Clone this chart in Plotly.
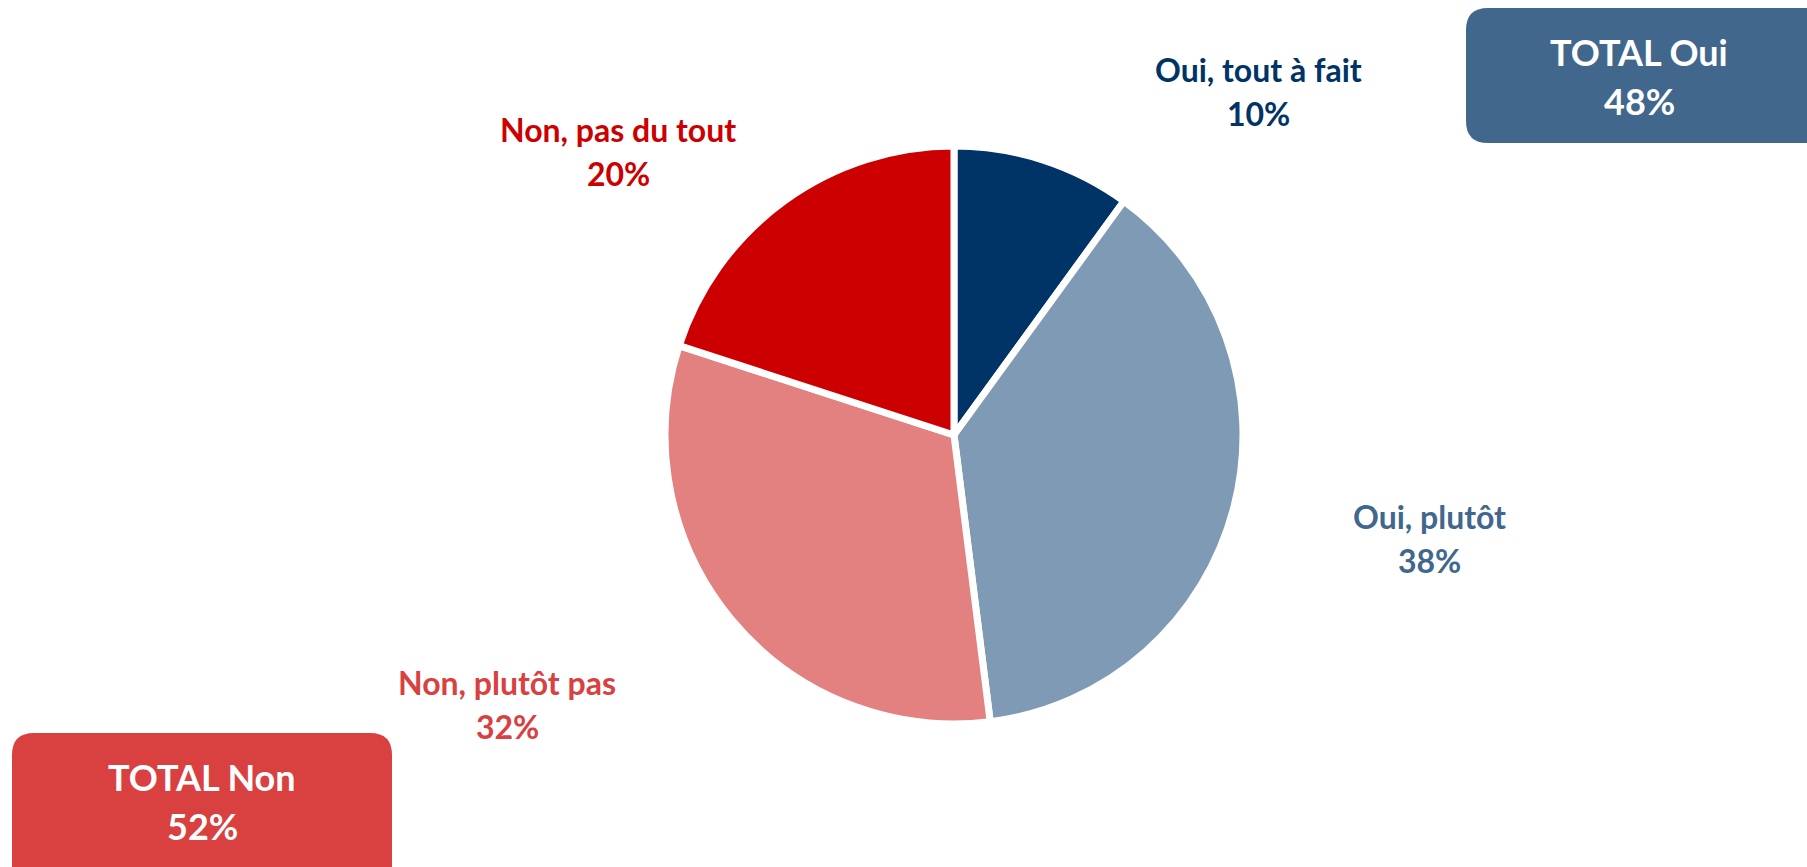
import plotly.graph_objects as go

W, H = 1807, 867

labels = ["Oui, tout à fait", "Oui, plutôt", "Non, plutôt pas", "Non, pas du tout"]
values = [10, 38, 32, 20]
slice_colors = ["#003366", "#7F9AB4", "#E38080", "#CC0000"]
label_colors = ["#003366", "#41678D", "#D94040", "#CC0000"]

totals_labels = ["TOTAL Oui", "TOTAL Non"]
totals_values = [48, 52]
totals_colors = ["#41678D", "#D94040"]

FONT = "Lato"

# layout positions (pixels)
cx, cy, r = 954, 435, 289
label_pos = [(1258, 69), (1429, 516), (507, 682), (618, 129)]
label_gap = 44
box_rects = [(1466, 8, 1830, 143), (12, 733, 392, 900)]
box_text_pos = [(1639, 52), (202, 777)]
box_gap = 49

fig = go.Figure()

fig.add_trace(go.Pie(
    labels=labels, values=values, sort=False, direction="clockwise", rotation=0,
    marker=dict(colors=slice_colors, line=dict(color="white", width=7)),
    textinfo="none", hoverinfo="skip", showlegend=False,
    domain=dict(x=[(cx - r) / W, (cx + r) / W], y=[1 - (cy + r) / H, 1 - (cy - r) / H]),
))

# invisible axes for pixel placement
fig.add_trace(go.Scatter(x=[0, W], y=[0, H], mode="markers", marker=dict(opacity=0),
                         hoverinfo="skip", showlegend=False))


def rounded(x0, y0, x1, y1, rad):
    return (f"M {x0+rad},{y0} L {x1-rad},{y0} Q {x1},{y0} {x1},{y0+rad} "
            f"L {x1},{y1-rad} Q {x1},{y1} {x1-rad},{y1} L {x0+rad},{y1} "
            f"Q {x0},{y1} {x0},{y1-rad} L {x0},{y0+rad} Q {x0},{y0} {x0+rad},{y0} Z")


for (x0, y0, x1, y1), col in zip(box_rects, totals_colors):
    fig.add_shape(type="path", path=rounded(x0, y0, x1, y1, 22), xref="x", yref="y",
                  fillcolor=col, line=dict(width=0), layer="below")

for (tx, ty), lab, val in zip(box_text_pos, totals_labels, totals_values):
    for i, t in enumerate([lab, f"{val}%"]):
        fig.add_annotation(x=tx, y=ty + i * box_gap, xref="x", yref="y", showarrow=False,
                           text=f"<b>{t}</b>", yanchor="middle",
                           font=dict(family=FONT, size=36, color="white"), align="center")

for (tx, ty), lab, val, col in zip(label_pos, labels, values, label_colors):
    for i, t in enumerate([lab, f"{val}%"]):
        fig.add_annotation(x=tx, y=ty + i * label_gap, xref="x", yref="y", showarrow=False,
                           text=f"<b>{t}</b>", yanchor="middle",
                           font=dict(family=FONT, size=32, color=col), align="center")

fig.update_layout(
    width=W, height=H, margin=dict(l=0, r=0, t=0, b=0),
    paper_bgcolor="white", plot_bgcolor="rgba(0,0,0,0)",
    xaxis=dict(range=[0, W], visible=False, fixedrange=True),
    yaxis=dict(range=[H, 0], visible=False, fixedrange=True),
)

fig.write_html("out.html", config={"displayModeBar": False},
               post_script="document.body.style.margin='0';document.body.style.overflow='hidden';")
